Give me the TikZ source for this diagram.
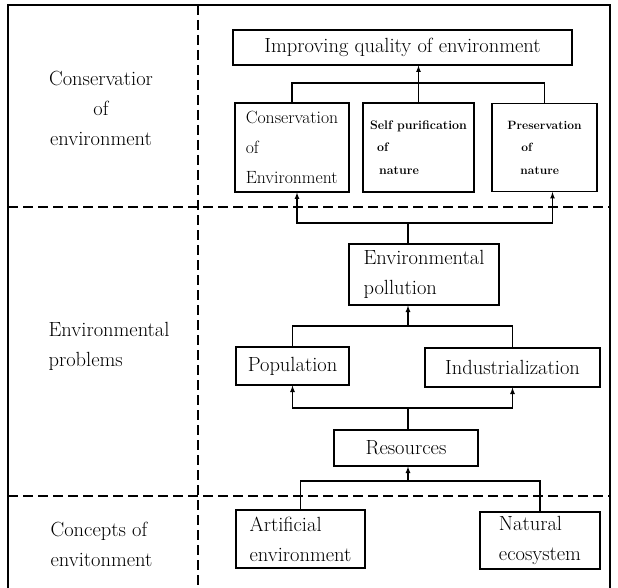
\documentclass[tikz,border=0pt]{standalone}
\usepackage{tikz}
\usetikzlibrary{arrows}

\begin{document}
\begin{tikzpicture}[x=1pt, y=-1pt, line width=1.2pt,
    box/.style={draw, inner sep=0pt, align=left, font=\fontsize{20.5}{30}\selectfont},
    smallbox/.style={box, font=\bfseries\fontsize{12.4}{22.5}\selectfont},
    sidetext/.style={inner sep=0pt, align=left, font=\fontsize{20.5}{30}\selectfont},
    divider/.style={dash pattern=on 10pt off 5pt}]
  \useasboundingbox (0,0) rectangle (618,588);

  % frame and the three bands
  \draw (8,588) -- (8,5) -- (610,5) -- (610,588);
  \draw[divider] (198,5) -- (198,588);
  \draw[divider] (8,207) -- (610,207);
  \draw[divider] (8,496) -- (610,496);

  \node[sidetext, align=center] (lcons) at (101,108) {Conservatior\\of\\environment};
  \node[sidetext, anchor=west] (lprob) at (48,346) {Environmental\\problems};
  \node[sidetext, anchor=west] (lconc) at (50,544) {Concepts of\\envitonment};

  % boxes
  \node[box, align=center, minimum width=339pt, minimum height=35pt] (imp) at (402.5,47.5) {Improving quality of environment};
  \node[box, font=\fontsize{17.7}{30}\selectfont, minimum width=114pt, minimum height=89pt] (cons) at (292,147.5) {Conservation\\of\\Environment};
  \node[smallbox, minimum width=111pt, minimum height=89pt] (selfp) at (418.5,147.5) {Self purification\\\hspace{7pt}of\\\hspace{9pt}nature};
  \node[smallbox, font=\bfseries\fontsize{12}{22.5}\selectfont, minimum width=105pt, minimum height=88pt] (pres) at (544.5,147.5) {Preservation\\\hspace{14pt}of\\\hspace{13pt}nature};
  \node[box, minimum width=150pt, minimum height=61pt] (env) at (424,274.5) {Environmental\\pollution};
  \node[box, minimum width=113pt, minimum height=38pt] (pop) at (292.5,366) {Population};
  \node[box, minimum width=175pt, minimum height=39pt] (ind) at (512.5,367.5) {Industrialization};
  \node[box, minimum width=144pt, minimum height=36pt] (res) at (406,448) {Resources};
  \node[box, minimum width=129pt, minimum height=58pt] (art) at (300.5,539) {Artificial\\environment};
  \node[box, minimum width=120pt, minimum height=57pt] (nat) at (540,540.5) {Natural\\ecosystem};

  % connectors
  \coordinate (busa) at (418.5,83);
  \draw (cons.north) |- (busa) -| (pres.north);
  \draw[-latex] (selfp.north) -- (selfp.north |- imp.south);

  \coordinate (busb) at (408,223);
  \draw[-latex] (busb) -| ([xshift=5pt]cons.south);
  \draw[-latex] (busb) -| ([xshift=8pt]pres.south);
  \draw (busb) -- (env.north -| busb);

  \coordinate (busc) at (408,326);
  \draw (pop.north) |- (busc) -| (ind.north);
  \draw[-latex] (busc) -- (env.south -| busc);

  \coordinate (busd) at (408,408);
  \draw[-latex] (busd) -| (pop.south);
  \draw[-latex] (busd) -| (ind.south);
  \draw (busd) -- (res.north -| busd);

  \coordinate (buse) at (408,481);
  \draw (art.north) |- (buse) -| (nat.north);
  \draw[-latex] (buse) -- (res.south -| buse);
\end{tikzpicture}
\end{document}
